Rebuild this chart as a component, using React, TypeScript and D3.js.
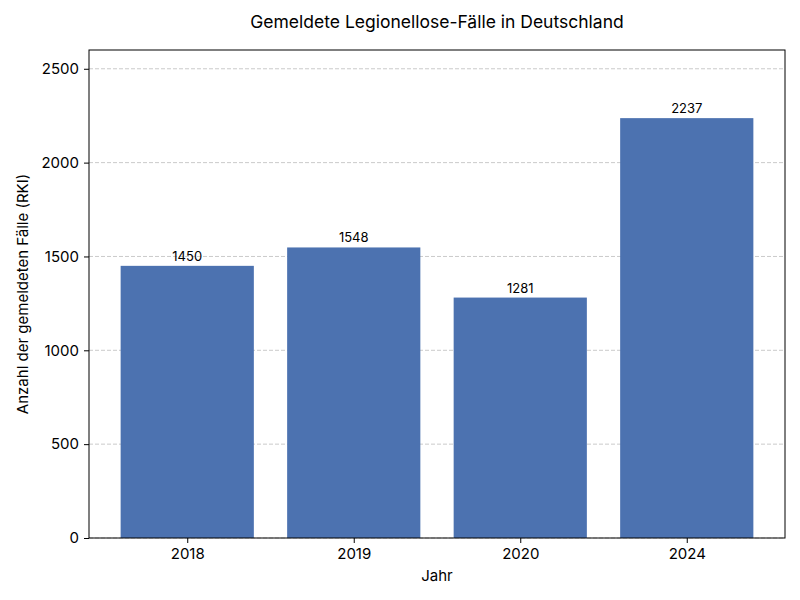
import { useRef, useEffect } from 'react';
import * as d3 from 'd3';

const years = ['2018', '2019', '2020', '2024'];
const cases = [1450, 1548, 1281, 2237];
const yTicks = [0, 500, 1000, 1500, 2000, 2500];

const FONT = 'Inter, "DejaVu Sans", sans-serif';

const App = () => {
  const svgRef = useRef<SVGSVGElement>(null);
  const width = 800;
  const height = 600;
  const margin = { top: 50, right: 15, bottom: 62, left: 89 };

  useEffect(() => {
    const svg = d3.select(svgRef.current);
    svg.selectAll('*').remove();

    const innerW = width - margin.left - margin.right;
    const innerH = height - margin.top - margin.bottom;

    const g = svg.append('g').attr('transform', `translate(${margin.left},${margin.top})`);

    // matplotlib-like: bars of width 0.8 at integer positions, 5% margins
    const n = years.length;
    const pad = 0.05 * (n - 1 + 0.8);
    const xScale = d3.scaleLinear().domain([-0.4 - pad, n - 1 + 0.4 + pad]).range([0, innerW]);
    const yScale = d3.scaleLinear().domain([0, 2600]).range([innerH, 0]);

    // grid
    g.append('g')
      .selectAll('line')
      .data(yTicks)
      .join('line')
      .attr('x1', 0)
      .attr('x2', innerW)
      .attr('y1', (d) => yScale(d))
      .attr('y2', (d) => yScale(d))
      .attr('stroke', '#bdbdbd')
      .attr('stroke-width', 0.8)
      .attr('stroke-dasharray', '4,2');

    // bars
    const bw = xScale(0.8) - xScale(0);
    g.selectAll('rect.bar')
      .data(cases)
      .join('rect')
      .attr('class', 'bar')
      .attr('x', (_d, i) => xScale(i) - bw / 2)
      .attr('y', (d) => yScale(d))
      .attr('width', bw)
      .attr('height', (d) => innerH - yScale(d))
      .attr('fill', '#4c72b0');

    // bar labels
    g.selectAll('text.val')
      .data(cases)
      .join('text')
      .attr('class', 'val')
      .attr('x', (_d, i) => xScale(i))
      .attr('y', (d) => yScale(d) - 5)
      .attr('text-anchor', 'middle')
      .attr('font-family', FONT)
      .attr('font-size', 13)
      .attr('fill', '#000')
      .text((d) => String(d));

    // axes
    const xAxis = d3
      .axisBottom(xScale)
      .tickValues(d3.range(n))
      .tickFormat((d) => years[d as number])
      .tickSize(5)
      .tickPadding(5);
    const xg = g.append('g').attr('transform', `translate(0,${innerH})`).call(xAxis);
    xg.select('.domain').remove();
    xg.selectAll('line').attr('stroke', '#000');
    xg.selectAll('text').attr('font-family', FONT).attr('font-size', 15).attr('fill', '#000');

    const yAxis = d3
      .axisLeft(yScale)
      .tickValues(yTicks)
      .tickFormat(d3.format('d'))
      .tickSize(5)
      .tickPadding(5);
    const yg = g.append('g').call(yAxis);
    yg.select('.domain').remove();
    yg.selectAll('line').attr('stroke', '#000');
    yg.selectAll('text').attr('font-family', FONT).attr('font-size', 15).attr('fill', '#000');

    // frame
    g.append('rect')
      .attr('width', innerW)
      .attr('height', innerH)
      .attr('fill', 'none')
      .attr('stroke', '#000')
      .attr('stroke-width', 1);

    // labels
    svg
      .append('text')
      .attr('x', margin.left + innerW / 2)
      .attr('y', 28)
      .attr('text-anchor', 'middle')
      .attr('font-family', FONT)
      .attr('font-size', 17.5)
      .attr('fill', '#000')
      .text('Gemeldete Legionellose-Fälle in Deutschland');

    svg
      .append('text')
      .attr('x', margin.left + innerW / 2)
      .attr('y', 581)
      .attr('text-anchor', 'middle')
      .attr('font-family', FONT)
      .attr('font-size', 15)
      .attr('fill', '#000')
      .text('Jahr');

    svg
      .append('text')
      .attr('transform', `translate(28,${margin.top + innerH / 2}) rotate(-90)`)
      .attr('text-anchor', 'middle')
      .attr('font-family', FONT)
      .attr('font-size', 15)
      .attr('fill', '#000')
      .text('Anzahl der gemeldeten Fälle (RKI)');
  }, []);

  return (
    <svg
      ref={svgRef}
      width={width}
      height={height}
      style={{ display: 'block', position: 'absolute', left: 0, top: 0, background: '#fff' }}
    />
  );
};

export default App;
